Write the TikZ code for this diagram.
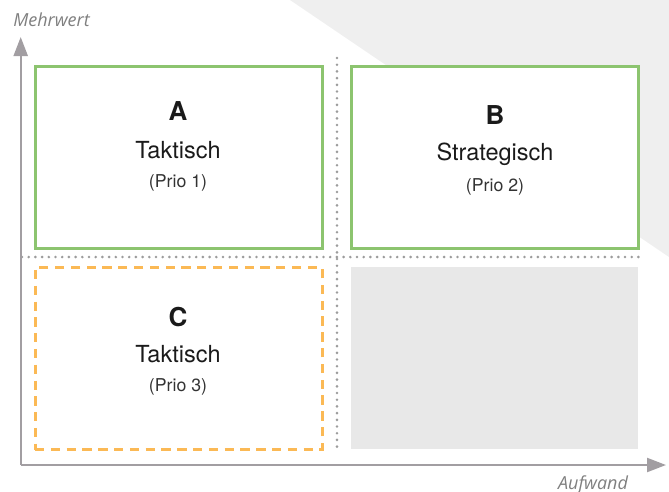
\documentclass[tikz,border=0pt]{standalone}
\usepackage{fontspec}
\setmainfont{TeX Gyre Heros}
\newfontfamily\axisfont{Open Sans}
\usetikzlibrary{arrows.meta}
\definecolor{bggray}{HTML}{EFEFEF}
\definecolor{axisgray}{HTML}{A29EA2}
\definecolor{dotgray}{HTML}{9C9C9C}
\definecolor{boxgreen}{HTML}{8CC46F}
\definecolor{boxorange}{HTML}{FBB955}
\definecolor{boxgray}{HTML}{E8E8E8}
\definecolor{labelgray}{HTML}{7F7F7F}
\definecolor{textdark}{HTML}{1A1A1A}
\definecolor{priogray}{HTML}{333333}
\tikzset{
  quadbox/.style={draw, line width=3pt, minimum width=287pt, minimum height=182pt, inner sep=0pt, outer sep=0pt, anchor=north west},
  greenbox/.style={quadbox, draw=boxgreen},
  orangebox/.style={quadbox, draw=boxorange, dash pattern=on 9.3pt off 6.5pt},
  graybox/.style={quadbox, draw=none, fill=boxgray},
  letter/.style={font=\fontsize{26}{26}\selectfont\bfseries, text=textdark},
  kind/.style={font=\fontsize{23.5}{24}\selectfont, text=textdark},
  prio/.style={font=\fontsize{17.7}{18}\selectfont, text=priogray},
  axislabel/.style={font=\axisfont\itshape\fontsize{18}{18}\selectfont, text=labelgray, anchor=base},
  axisline/.style={draw=axisgray, line width=2.2pt, -{Triangle[length=19pt,width=14pt]}},
  dotline/.style={draw=dotgray, line width=2.9pt, line cap=round, dash pattern=on 0pt off 6.7pt}
}
\begin{document}
\begin{tikzpicture}[x=1pt,y=-1pt]
\useasboundingbox (0,0) rectangle (669,491);
\fill[bggray] (290,0) -- (669,0) -- (669,257) -- cycle;
% dotted separators
\coordinate (vtop) at (337,58);
\coordinate (vbot) at (337,453);
\coordinate (hleft) at (22,257);
\coordinate (hright) at (645,257);
\draw[dotline] (vtop) -- (vbot);
\draw[dotline] (hleft) -- (hright);
% boxes
\node[greenbox, fill=white] (A) at (35,66) {};
\node[greenbox, fill=white] (B) at (351.5,66) {};
\node[orangebox] (C) at (35,267.5) {};
\node[graybox, minimum height=182pt] (D) at (351,267) {};
% texts
\node[letter] (Al) at (178,111) {A};
\node[kind] (At) at (178,150) {Taktisch};
\node[prio] (Ap) at (178,183) {(Prio 1)};
\node[letter] (Bl) at (495,115.5) {B};
\node[kind] (Bt) at (495,154) {Strategisch};
\node[prio] (Bp) at (495,186.5) {(Prio 2)};
\node[letter] (Cl) at (178,317) {C};
\node[kind] (Ct) at (178,354.5) {Taktisch};
\node[prio] (Cp) at (178,387) {(Prio 3)};
% axes
\coordinate (origin) at (20.7,465);
\coordinate (ytip) at (20.7,37);
\coordinate (xtip) at (666,465);
\draw[axisline] (origin) -- (ytip);
\draw[axisline] (origin) -- (xtip);
\node[axislabel] (ylab) at (51.5,26) {Mehrwert};
\node[axislabel] (xlab) at (593,489.5) {Aufwand};
\end{tikzpicture}
\end{document}
